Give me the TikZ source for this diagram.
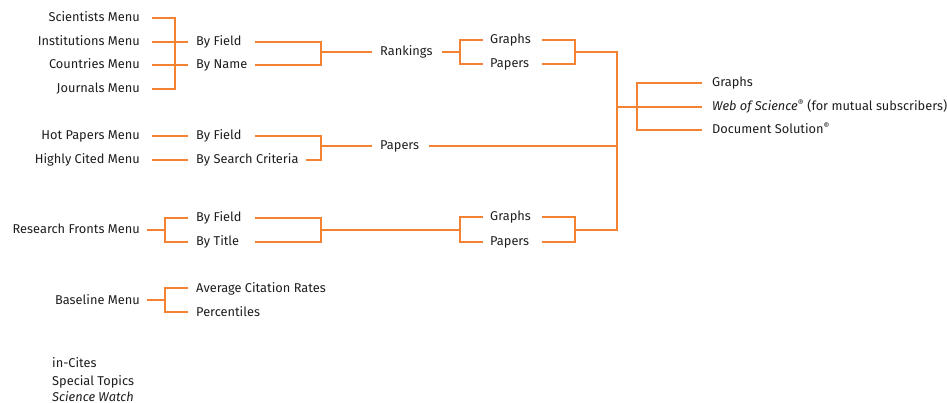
\documentclass[tikz,border=0pt]{standalone}
\usepackage{fontspec}
\setmainfont{Fira Sans}
\usetikzlibrary{calc}
\definecolor{orng}{RGB}{243,130,50}
\definecolor{txt}{RGB}{30,30,30}
\tikzset{
  lbl/.style={inner sep=0pt, text height=10pt, text depth=2pt, text=txt, font=\fontsize{12.8}{14}\selectfont},
  lft/.style={lbl, anchor=east},
  rgt/.style={lbl, anchor=west},
  c/.style={draw=orng, line width=1.5pt}
}
\begin{document}
\begin{tikzpicture}[x=1pt,y=-1pt]
\useasboundingbox (0,0) rectangle (947,403);
% left menus
\node[lft] (sci)  at (140,18) {Scientists Menu};
\node[lft] (inst) at (140,42) {Institutions Menu};
\node[lft] (ctry) at (140,65) {Countries Menu};
\node[lft] (jrnl) at (140,89) {Journals Menu};
\node[lft] (hot)  at (140,136) {Hot Papers Menu};
\node[lft] (hc)   at (140,160) {Highly Cited Menu};
\node[lft] (rf)   at (140,230) {Research Fronts Menu};
\node[lft] (base) at (140,300) {Baseline Menu};
% second column
\node[rgt] (bf1) at (196,42) {By Field};
\node[rgt] (bn)  at (196,65) {By Name};
\node[rgt] (bf2) at (196,136) {By Field};
\node[rgt] (bsc) at (196,160) {By Search Criteria};
\node[rgt] (bf3) at (196,218) {By Field};
\node[rgt] (bt)  at (196,242) {By Title};
\node[rgt] (acr) at (196,288) {Average Citation Rates};
\node[rgt] (pct) at (196,312) {Percentiles};
% third column
\node[rgt] (rank) at (380,52) {Rankings};
\node[rgt] (pap)  at (380,146) {Papers};
\node[rgt] (g1) at (490,40) {Graphs};
\node[rgt] (p1) at (490,64) {Papers};
\node[rgt] (g2) at (490,217) {Graphs};
\node[rgt] (p2) at (490,242) {Papers};
% outputs
\node[rgt] (out1) at (712,83) {Graphs};
\node[rgt] (wos)  at (712,107) {\textit{Web of Science}\textsuperscript{®} (for mutual subscribers)};
\node[rgt] (doc)  at (712,130) {Document Solution\textsuperscript{®}};
% footer
\node[rgt] (inc) at (52,363) {in-Cites};
\node[rgt] (spt) at (52,381) {Special Topics};
\node[rgt] (sw)  at (52,397) {\textit{Science Watch}};
% guide coordinates
\coordinate (a1) at (152,0);
\coordinate (v1) at (175,0);
\coordinate (a2) at (188,0);
\coordinate (a1b) at (147,0);
\coordinate (v7) at (165,0);
\coordinate (s2) at (255,0);
\coordinate (v2) at (321,0);
\coordinate (e2) at (372,0);
\coordinate (s3) at (442,0);
\coordinate (v3) at (460,0);
\coordinate (e3) at (483,0);
\coordinate (s4) at (542,0);
\coordinate (v4) at (575,0);
\coordinate (v5) at (617,0);
\coordinate (v6) at (637,0);
\coordinate (e6) at (702,0);
\coordinate (s9) at (429,0);
% group 1
\draw[c] (sci -| a1) -- (sci -| v1) -- (jrnl -| v1) -- (jrnl -| a1);
\draw[c] (inst -| a1) -- (bf1 -| a2);
\draw[c] (ctry -| a1) -- (bn -| a2);
\draw[c] (bf1 -| s2) -- (bf1 -| v2) -- (bn -| v2) -- (bn -| s2);
\draw[c] (rank -| v2) -- (rank -| e2);
\draw[c] (rank -| s3) -- (rank -| v3);
\draw[c] (g1 -| e3) -- (g1 -| v3) -- (p1 -| v3) -- (p1 -| e3);
\draw[c] (g1 -| s4) -- (g1 -| v4) -- (p1 -| v4) -- (p1 -| s4);
\draw[c] (rank -| v4) -- (rank -| v5) -- (rf -| v5) -- (rf -| v4);
% outputs
\draw[c] (wos -| v5) -- (wos -| e6);
\draw[c] (out1 -| e6) -- (out1 -| v6) -- (doc -| v6) -- (doc -| e6);
% group 2
\draw[c] (hot -| a1) -- (bf2 -| a2);
\draw[c] (hc -| a1) -- (bsc -| a2);
\draw[c] (bf2 -| s2) -- (bf2 -| v2) -- (bsc -| v2) -- ([xshift=7pt]bsc.east);
\draw[c] (pap -| v2) -- (pap -| e2);
\draw[c] (pap -| s9) -- (pap -| v5);
% group 3
\draw[c] (rf -| a1b) -- (rf -| v7);
\draw[c] (bf3 -| a2) -- (bf3 -| v7) -- (bt -| v7) -- (bt -| a2);
\draw[c] (bf3 -| s2) -- (bf3 -| v2) -- (bt -| v2) -- (bt -| s2);
\draw[c] (rf -| v2) -- (rf -| v3);
\draw[c] (g2 -| e3) -- (g2 -| v3) -- (p2 -| v3) -- (p2 -| e3);
\draw[c] (g2 -| s4) -- (g2 -| v4) -- (p2 -| v4) -- (p2 -| s4);
% baseline
\draw[c] (base -| a1b) -- (base -| v7);
\draw[c] (acr -| a2) -- (acr -| v7) -- (pct -| v7) -- (pct -| a2);
\end{tikzpicture}
\end{document}
